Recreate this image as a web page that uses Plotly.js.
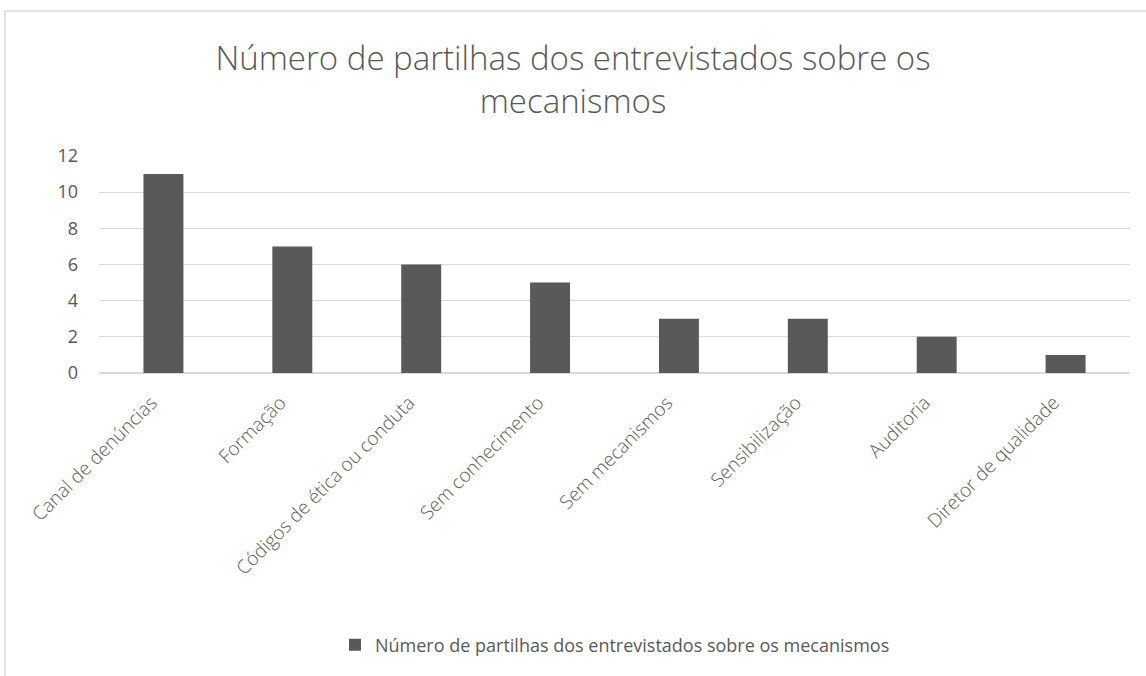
<!DOCTYPE html>
<html>
<head>
<meta charset="utf-8">
<script src="https://cdn.plot.ly/plotly-3.0.1.min.js"></script>
<style>html,body{margin:0;padding:0;background:#fff;}#chart{width:1146px;height:676px;}</style>
</head>
<body>
<div id="chart"></div>
<script>
const categories = ["Canal de denúncias", "Formação", "Códigos de ética ou conduta", "Sem conhecimento", "Sem mecanismos", "Sensibilização", "Auditoria", "Diretor de qualidade"];
const values = [11, 7, 6, 5, 3, 3, 2, 1];
const seriesName = "Número de partilhas dos entrevistados sobre os mecanismos";
const titleText = "Número de partilhas dos entrevistados sobre os<br>mecanismos";
const yTicks = [0, 2, 4, 6, 8, 10, 12];

const fontFam = "Open Sans, Noto Sans, sans-serif";
const textColor = "#595959";

const trace = {
  type: "bar",
  x: categories,
  y: values,
  name: seriesName,
  marker: {color: "#595959"},
  showlegend: true,
  hoverinfo: "x+y"
};

const layout = {
  width: 1146,
  height: 676,
  paper_bgcolor: "#ffffff",
  plot_bgcolor: "#ffffff",
  margin: {l: 99, r: 16, t: 156, b: 303},
  font: {family: fontFam, color: textColor, size: 16},
  title: {
    text: titleText,
    font: {family: fontFam, size: 33, color: textColor, weight: 300},
    x: 0.5, xanchor: "center",
    y: 1 - 70/676, yanchor: "top",
    yref: "container"
  },
  bargap: 0.69,
  xaxis: {
    type: "category",
    tickangle: -45,
    showgrid: false,
    showline: false,
    zeroline: false,
    ticks: "",
    ticklabelstandoff: 14,
    ticklabelshift: -12,
    tickfont: {size: 19, color: textColor, family: fontFam, weight: 300},
    automargin: false
  },
  yaxis: {
    range: [0, 12],
    tickvals: yTicks,
    showgrid: true,
    gridcolor: "#d9d9d9",
    gridwidth: 1.3,
    zeroline: true,
    zerolinecolor: "#d9d9d9",
    zerolinewidth: 1.3,
    showline: false,
    ticks: "",
    ticklabelstandoff: 20,
    tickfont: {size: 18, color: textColor, family: fontFam},
    automargin: false
  },
  legend: {
    orientation: "h",
    x: 0.5 + 42/1146, xanchor: "center",
    xref: "container",
    y: 1 - 645/676, yanchor: "middle",
    yref: "container",
    font: {size: 18, color: textColor, family: fontFam},
    itemwidth: 30
  },
  shapes: [{
    type: "rect",
    xref: "paper", yref: "paper",
    x0: (5 - 99) / 1031, x1: 1.2,
    y0: -2, y1: (373 - 11) / 217,
    line: {color: "#d9d9d9", width: 1.5},
    fillcolor: "rgba(0,0,0,0)",
    layer: "below"
  }]
};

Plotly.newPlot("chart", [trace], layout, {displayModeBar: false, staticPlot: true});
</script>
</body>
</html>
